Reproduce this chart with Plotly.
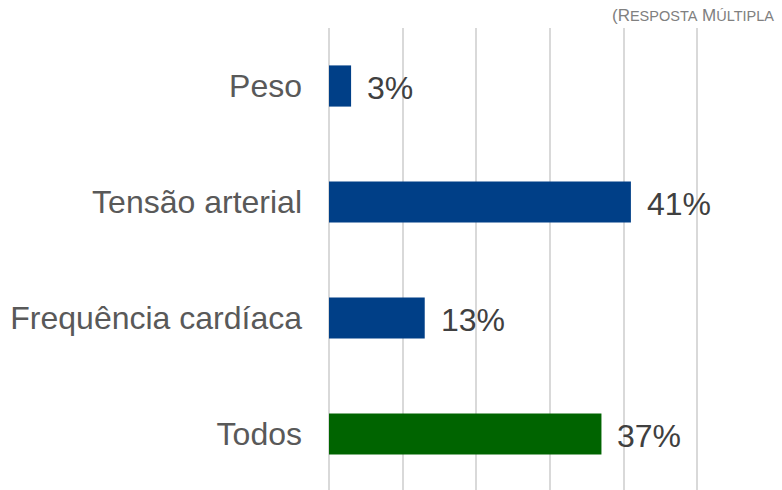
import plotly.graph_objects as go

categories = ["Peso", "Tensão arterial", "Frequência cardíaca", "Todos"]
values = [3, 41, 13, 37]
colors = ["#003F87", "#003F87", "#003F87", "#006400"]
x_ticks = [0, 10, 20, 30, 40, 50]

fig = go.Figure()
fig.add_trace(go.Bar(
    y=categories, x=values, orientation="h",
    marker=dict(color=colors, line=dict(width=0)),
    width=0.355, hoverinfo="skip",
))

for c, v in zip(categories, values):
    fig.add_annotation(x=v, y=c, xref="x", yref="y", text=f"{v}%",
                       showarrow=False, xanchor="left", yanchor="middle",
                       xshift=14, yshift=-2,
                       font=dict(family="Liberation Sans, Arial", size=32, color="#404040"))

fig.add_annotation(
    xref="paper", yref="paper", x=(610 - 329) / 405, y=1.0,
    yshift=13, xanchor="left", yanchor="middle", showarrow=False,
    text="(R<span style='font-size:14.5px'>ESPOSTA</span> M<span style='font-size:14.5px'>ÚLTIPLA</span>",
    font=dict(family="Liberation Sans, Arial", size=17, color="#808080"),
)

fig.update_layout(
    width=782, height=490,
    margin=dict(l=329, r=782 - 329 - 405, t=28, b=0, pad=0),
    plot_bgcolor="white", paper_bgcolor="white",
    showlegend=False,
    xaxis=dict(range=[0, 55], tickvals=x_ticks, showticklabels=False,
               showgrid=True, gridcolor="#d9d9d9", gridwidth=2,
               zeroline=True, zerolinecolor="#d9d9d9", zerolinewidth=2,
               showline=False, fixedrange=True),
    yaxis=dict(categoryorder="array", categoryarray=categories,
               range=[3.483, -0.5], showgrid=False, zeroline=False,
               showline=False, ticks="", ticklabelstandoff=26,
               tickfont=dict(family="Liberation Sans, Arial", size=32, color="#595959"),
               fixedrange=True),
)

fig.write_html("out.html")
